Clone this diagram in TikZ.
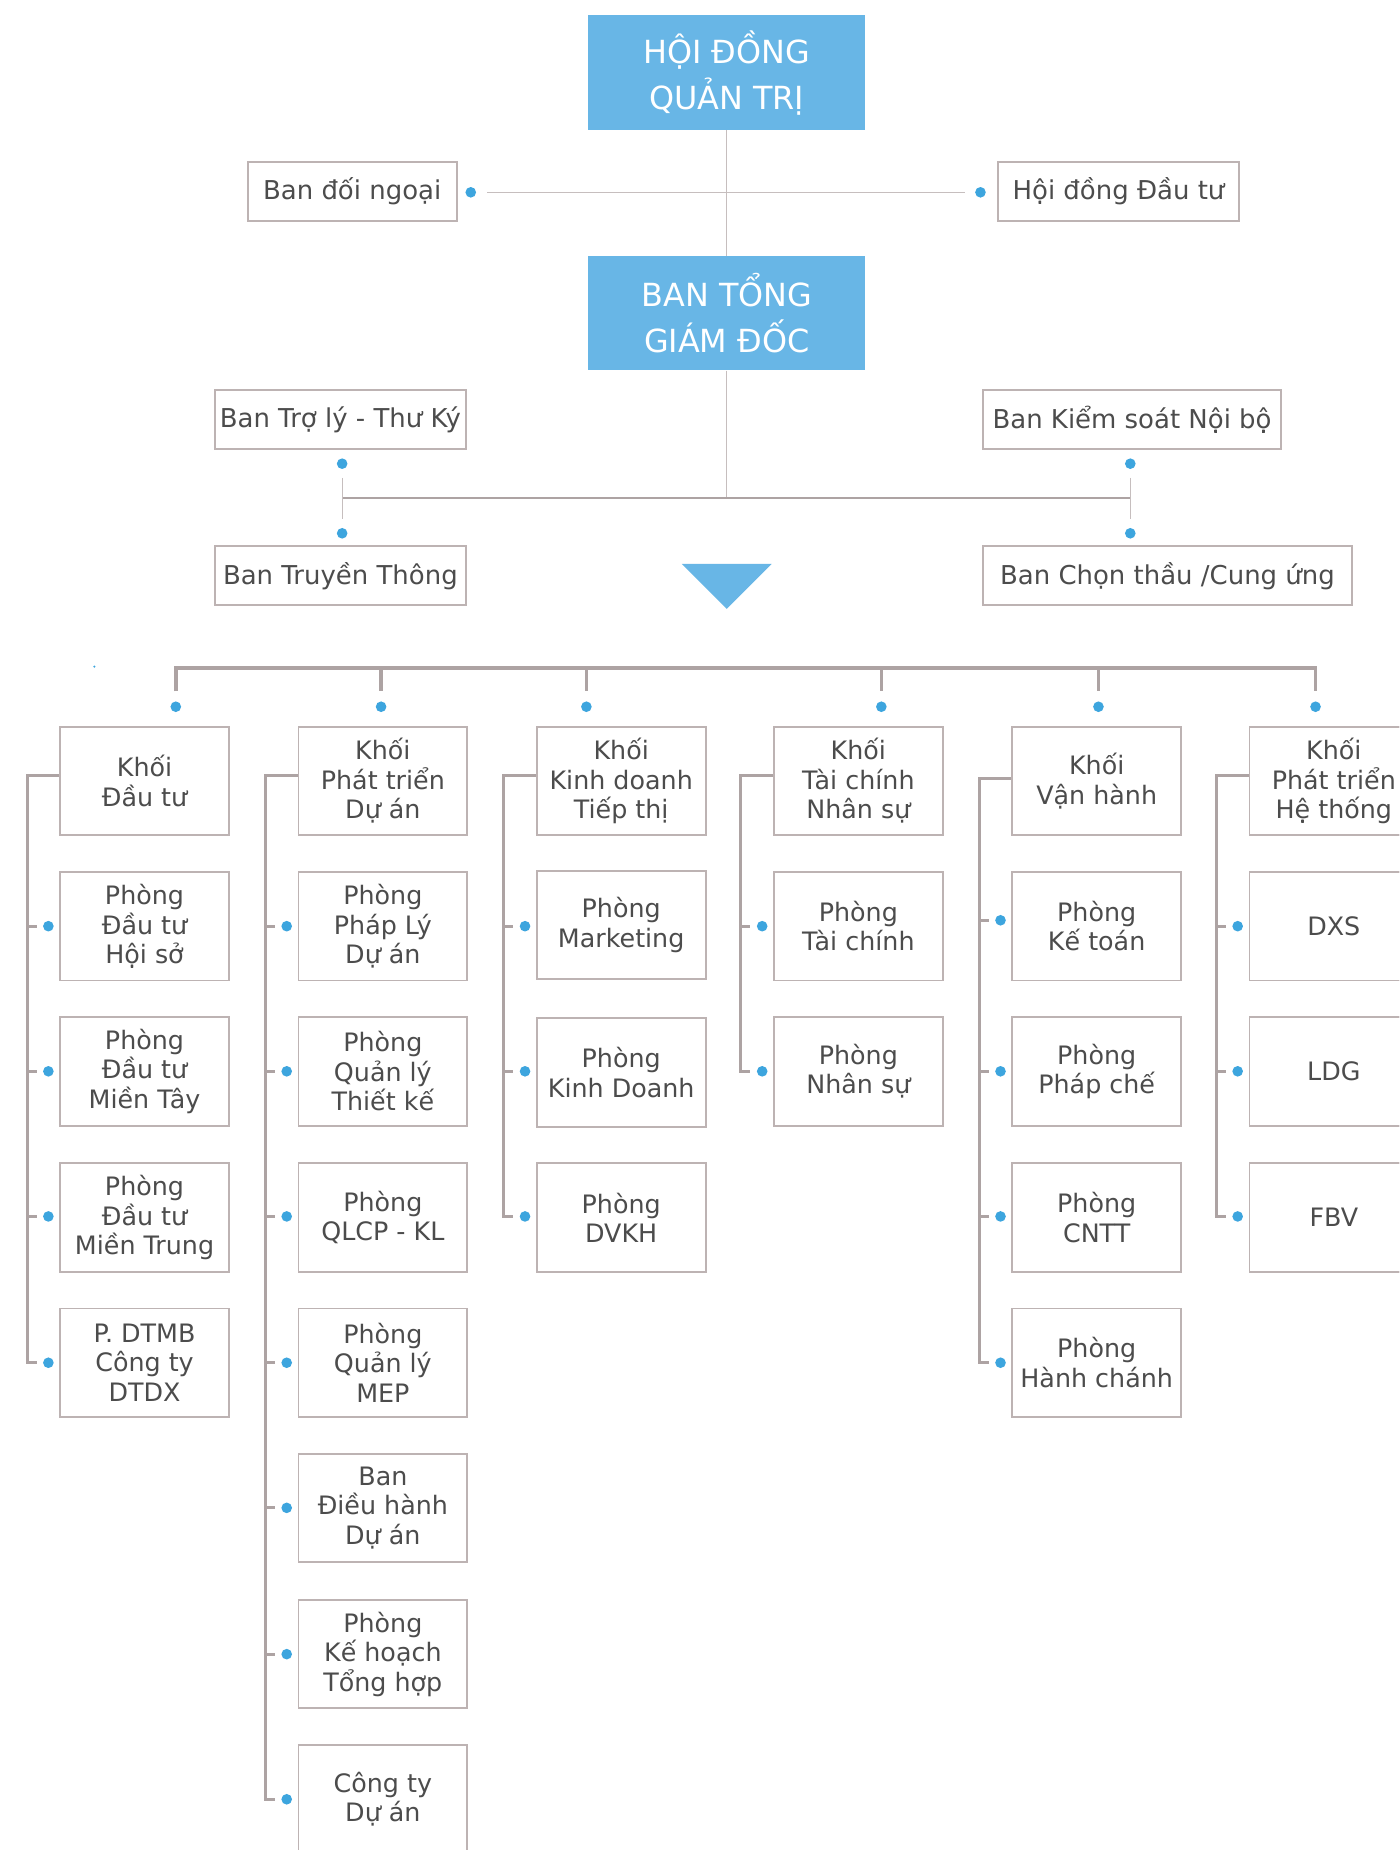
\documentclass[tikz,border=0pt]{standalone}
\usepackage{fontspec}
\setmainfont{DejaVu Sans}
\definecolor{hblue}{HTML}{68B6E6}
\definecolor{dotblue}{HTML}{3DA5DE}
\definecolor{boxline}{HTML}{BDB3B3}
\definecolor{conn}{HTML}{ADA3A3}
\definecolor{thinl}{HTML}{C6BEBE}
\definecolor{txt}{HTML}{4C4C4C}
\begin{document}
\begin{tikzpicture}[x=1pt,y=-1pt,
  headbox/.style={fill=hblue, text=white, minimum width=235pt, minimum height=97pt, inner sep=0pt, align=center, font=\fontsize{27}{39}\selectfont},
  tbox/.style={draw=boxline, line width=1.6pt, fill=white, text=txt, inner sep=0pt, minimum height=50pt, align=center, font=\fontsize{22}{25}\selectfont},
  cbox/.style={draw=boxline, line width=1.6pt, fill=white, text=txt, inner sep=0pt, minimum width=143pt, minimum height=92pt, align=center, font=\fontsize{21.5}{25}\selectfont},
  bdot/.style={circle, fill=dotblue, inner sep=0pt, minimum size=9pt},
  thinline/.style={draw=thinl, line width=1pt},
  midline/.style={draw=conn, line width=2pt},
  busline/.style={draw=conn, line width=3pt},
  brk/.style={draw=conn, line width=2.5pt}]
\useasboundingbox (0,0) rectangle (1186,1568);
\clip (0,0) rectangle (1186,1568);
\fill[white] (0,0) rectangle (1186,1568);

% ---- top part
\node[headbox] (hdqt) at (616,61.5) {HỘI ĐỒNG\\QUẢN TRỊ};
\node[headbox] (btgd) at (616,265.5) {BAN TỔNG\\GIÁM ĐỐC};
\node[tbox, minimum width=177pt] (bdn) at (298.5,162) {Ban đối ngoại};
\node[tbox, minimum width=204pt] (hddt) at (948,162) {Hội đồng Đầu tư};
\node[bdot] (d1) at (399,163) {};
\node[bdot] (d2) at (831,163) {};
\coordinate (l1) at (413,163);
\coordinate (l2) at (818,163);
\draw[thinline] (hdqt.south) -- (btgd.north);
\draw[thinline] (l1) -- (l2);

\node[tbox, minimum width=213pt] (btl) at (288.5,355.5) {Ban Trợ lý - Thư Ký};
\node[tbox, minimum width=253pt] (bks) at (959.5,355.5) {Ban Kiểm soát Nội bộ};
\node[tbox, minimum width=213pt] (btt) at (288.5,488) {Ban Truyền Thông};
\node[tbox, minimum width=313pt] (bct) at (989.5,488) {Ban Chọn thầu /Cung ứng};
\node[bdot] (d3) at (290,393) {};
\node[bdot] (d4) at (290,452) {};
\node[bdot] (d5) at (958,393) {};
\node[bdot] (d6) at (958,452) {};
\coordinate (j) at (616,422);
\coordinate (jl) at (290,422);
\coordinate (jr) at (958,422);
\coordinate (jlt) at (290,405);
\coordinate (jlb) at (290,440);
\coordinate (jrt) at (958,405);
\coordinate (jrb) at (958,440);
\draw[thinline] (btgd.south) -- (j);
\draw[midline] (jl) -- (jr);
\draw[thinline] (jlt) -- (jlb);
\draw[thinline] (jrt) -- (jrb);
\fill[hblue] (578,478) -- (654,478) -- (616,516) -- cycle;

% ---- bus
\fill[dotblue] (80,565) circle (1pt);
\draw[busline] (149,586) -- (149,566) -- (1115,566) -- (1115,586);
\foreach \x in {323,497,747,931} \draw[busline] (\x,566) -- (\x,586);
\foreach \x/\n in {149/1,323/2,497/3,747/4,931/5,1115/6} \node[bdot] (b\n) at (\x,599) {};

% ---- column boxes
% col 1
\node[cbox] (c1r1) at (122.5,662) {Khối\\Đầu tư};
\node[cbox] (c1r2) at (122.5,785) {Phòng\\Đầu tư\\Hội sở};
\node[cbox] (c1r3) at (122.5,908) {Phòng\\Đầu tư\\Miền Tây};
\node[cbox] (c1r4) at (122.5,1032) {Phòng\\Đầu tư\\Miền Trung};
\node[cbox] (c1r5) at (122.5,1155) {P. DTMB\\Công ty\\DTDX};
% col 2
\node[cbox] (c2r1) at (324.5,662) {Khối\\Phát triển\\Dự án};
\node[cbox] (c2r2) at (324.5,785) {Phòng\\Pháp Lý\\Dự án};
\node[cbox] (c2r3) at (324.5,908) {Phòng\\Quản lý\\Thiết kế};
\node[cbox] (c2r4) at (324.5,1032) {Phòng\\QLCP - KL};
\node[cbox] (c2r5) at (324.5,1155) {Phòng\\Quản lý\\MEP};
\node[cbox] (c2r6) at (324.5,1278) {Ban\\Điều hành\\Dự án};
\node[cbox] (c2r7) at (324.5,1402) {Phòng\\Kế hoạch\\Tổng hợp};
\node[cbox] (c2r8) at (324.5,1525) {Công ty\\Dự án};
% col 3
\node[cbox] (c3r1) at (526.5,662) {Khối\\Kinh doanh\\Tiếp thị};
\node[cbox] (c3r2) at (526.5,784) {Phòng\\Marketing};
\node[cbox] (c3r3) at (526.5,909) {Phòng\\Kinh Doanh};
\node[cbox] (c3r4) at (526.5,1032) {Phòng\\DVKH};
% col 4
\node[cbox] (c4r1) at (727.5,662) {Khối\\Tài chính\\Nhân sự};
\node[cbox] (c4r2) at (727.5,785) {Phòng\\Tài chính};
\node[cbox] (c4r3) at (727.5,908) {Phòng\\Nhân sự};
% col 5
\node[cbox] (c5r1) at (929.5,662) {Khối\\Vận hành};
\node[cbox] (c5r2) at (929.5,785) {Phòng\\Kế toán};
\node[cbox] (c5r3) at (929.5,908) {Phòng\\Pháp chế};
\node[cbox] (c5r4) at (929.5,1032) {Phòng\\CNTT};
\node[cbox] (c5r5) at (929.5,1155) {Phòng\\Hành chánh};
% col 6
\node[cbox] (c6r1) at (1130.5,662) {Khối\\Phát triển\\Hệ thống};
\node[cbox] (c6r2) at (1130.5,785) {DXS};
\node[cbox] (c6r3) at (1130.5,908) {LDG};
\node[cbox] (c6r4) at (1130.5,1032) {FBV};

% ---- brackets
% col1
\draw[brk] ([yshift=5pt]c1r1.west) -- (23,657) -- (23,1155) -- (31,1155);
\foreach \y in {785,908,1031} \draw[brk] (23,\y) -- (31,\y);
\foreach \y/\n in {785/2,908/3,1031/4,1155/5} \node[bdot] (e1\n) at (41,\y) {};
% col2
\draw[brk] ([yshift=5pt]c2r1.west) -- (225,657) -- (225,1525) -- (233,1525);
\foreach \y in {785,908,1031,1155,1278,1402} \draw[brk] (225,\y) -- (233,\y);
\foreach \y/\n in {785/2,908/3,1031/4,1155/5,1278/6,1402/7,1525/8} \node[bdot] (e2\n) at (243,\y) {};
% col3
\draw[brk] ([yshift=5pt]c3r1.west) -- (427,657) -- (427,1031) -- (435,1031);
\foreach \y in {785,908} \draw[brk] (427,\y) -- (435,\y);
\foreach \y/\n in {785/2,908/3,1031/4} \node[bdot] (e3\n) at (445,\y) {};
% col4
\draw[brk] ([yshift=5pt]c4r1.west) -- (628,657) -- (628,908) -- (636,908);
\draw[brk] (628,785) -- (636,785);
\foreach \y/\n in {785/2,908/3} \node[bdot] (e4\n) at (646,\y) {};
% col5
\draw[brk] ([yshift=2pt]c5r1.west) -- (830,660) -- (830,1155) -- (838,1155);
\foreach \y in {780,908,1031} \draw[brk] (830,\y) -- (838,\y);
\foreach \y/\n in {780/2,908/3,1031/4,1155/5} \node[bdot] (e5\n) at (848,\y) {};
% col6
\draw[brk] ([yshift=5pt]c6r1.west) -- (1031,657) -- (1031,1031) -- (1039,1031);
\foreach \y in {785,908} \draw[brk] (1031,\y) -- (1039,\y);
\foreach \y/\n in {785/2,908/3,1031/4} \node[bdot] (e6\n) at (1049,\y) {};
\end{tikzpicture}
\end{document}
